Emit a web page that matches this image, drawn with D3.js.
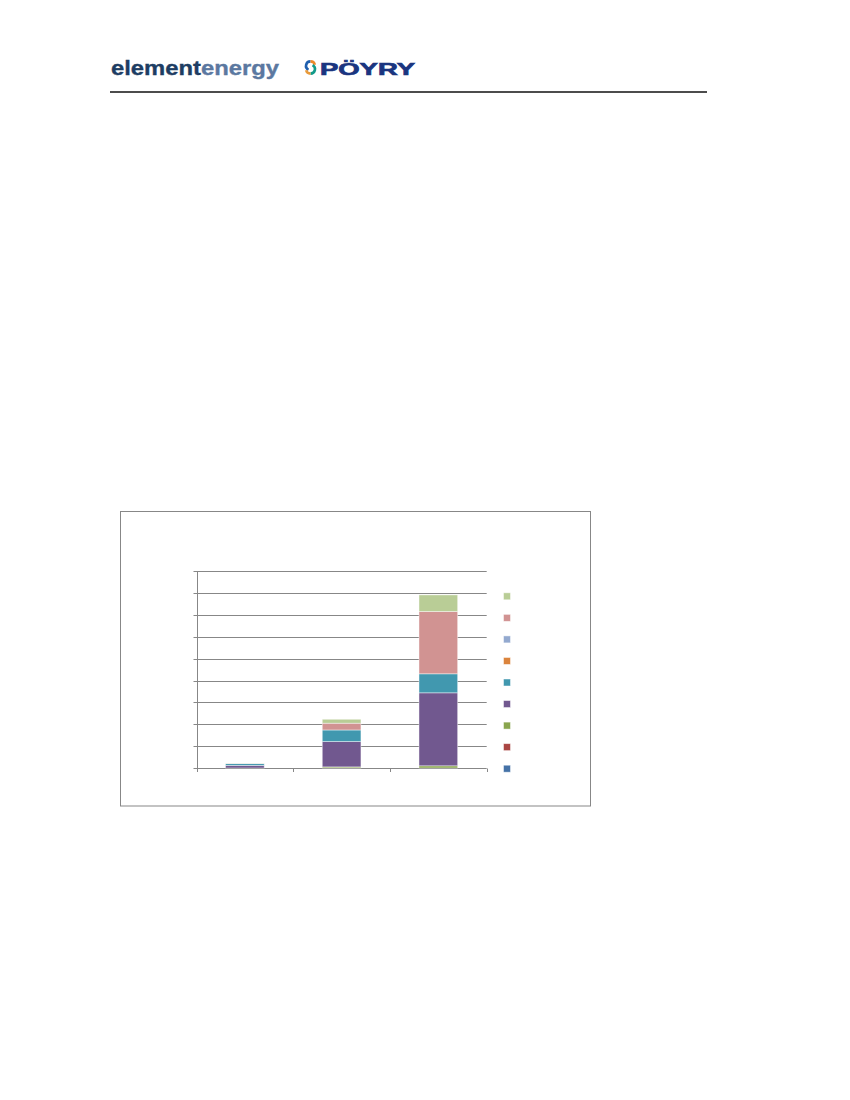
<!DOCTYPE html>
<html>
<head>
<meta charset="utf-8">
<script src="https://cdn.jsdelivr.net/npm/d3@7"></script>
<style>
  html, body { margin: 0; padding: 0; background: #fff; }
  svg { display: block; }
</style>
</head>
<body>
<svg id="page" width="850" height="1100"></svg>
<script>
// ---- data (in gridline units) ----
const categories = ["Period 1", "Period 2", "Period 3"];
const seriesNames = ["Series 1", "Series 2", "Series 3", "Series 4", "Series 5",
                     "Series 6", "Series 7", "Series 8", "Series 9"];
const seriesColors = ["#4572A7", "#AA4643", "#89A54E", "#71588F", "#4198AF",
                      "#DB843D", "#93A9CF", "#D19392", "#B9CD96"];
const series1 = [0, 0, 0];
const series2 = [0, 0, 0];
const series3 = [0, 0.05, 0.1];
const series4 = [0.12, 1.16, 3.34];
const series5 = [0.08, 0.53, 0.87];
const series6 = [0, 0, 0];
const series7 = [0, 0, 0];
const series8 = [0.01, 0.31, 2.85];
const series9 = [0.01, 0.18, 0.76];
const yTicks = [0, 1, 2, 3, 4, 5, 6, 7, 8, 9];

const seriesValues = [series1, series2, series3, series4, series5,
                      series6, series7, series8, series9];
const table = categories.map((c, i) => {
  const row = { category: c };
  seriesNames.forEach((s, j) => row[s] = seriesValues[j][i]);
  return row;
});

const svg = d3.select("#page");

// ---- header ----
const header = svg.append("g");
const ee = header.append("text")
  .attr("x", 111).attr("y", 75)
  .attr("font-family", "Liberation Sans, Arial, sans-serif")
  .attr("font-weight", "bold")
  .attr("font-size", 21)
  .attr("stroke-width", 0.35)
  .attr("textLength", 168)
  .attr("lengthAdjust", "spacingAndGlyphs");
ee.append("tspan").attr("fill", "#1d3d63").attr("stroke", "#1d3d63").text("element");
ee.append("tspan").attr("fill", "#5b78a0").attr("stroke", "#5b78a0").text("energy");

// Pöyry icon
const arcIcon = d3.arc().innerRadius(3.2).outerRadius(5.8);
const icon = header.append("g").attr("transform", "translate(310.5,67.5)");
icon.append("path")
  .attr("d", arcIcon({ startAngle: -0.85 * Math.PI, endAngle: 0 }))
  .attr("transform", "translate(0,-1.6)")
  .attr("fill", "#1f5fae");
icon.append("path")
  .attr("d", arcIcon({ startAngle: 0, endAngle: 0.42 * Math.PI }))
  .attr("transform", "translate(0,-1.6)")
  .attr("fill", "#ee8a2a");
icon.append("path")
  .attr("d", arcIcon({ startAngle: 0.15 * Math.PI, endAngle: Math.PI }))
  .attr("transform", "translate(0,1.6)")
  .attr("fill", "#129a8a");
icon.append("path")
  .attr("d", arcIcon({ startAngle: Math.PI, endAngle: 1.42 * Math.PI }))
  .attr("transform", "translate(0,1.6)")
  .attr("fill", "#e99a3a");

header.append("text")
  .attr("x", 320).attr("y", 74.5)
  .attr("font-family", "Liberation Sans, Arial, sans-serif")
  .attr("font-weight", "bold")
  .attr("font-size", 17)
  .attr("fill", "#1a3580")
  .attr("stroke", "#1a3580").attr("stroke-width", 0.7)
  .attr("textLength", 95)
  .attr("lengthAdjust", "spacingAndGlyphs")
  .text("PÖYRY");

header.append("line")
  .attr("x1", 110).attr("x2", 707)
  .attr("y1", 92).attr("y2", 92)
  .attr("stroke", "#111").attr("stroke-width", 1.6);

// ---- chart frame ----
svg.append("rect")
  .attr("x", 120.5).attr("y", 511.5)
  .attr("width", 470).attr("height", 294.5)
  .attr("fill", "#fff")
  .attr("stroke", "#878787").attr("stroke-width", 1);

// ---- scales ----
const plot = { left: 196.5, right: 486.7, top: 571.3, bottom: 768 };
const x = d3.scaleBand()
  .domain(categories)
  .range([plot.left, plot.right])
  .paddingInner(0.6)
  .paddingOuter(0.3);
const y = d3.scaleLinear()
  .domain([0, 9])
  .range([plot.bottom, plot.top]);

const gridColor = "#878787";

// gridlines
svg.append("g")
  .selectAll("line")
  .data(yTicks)
  .join("line")
  .attr("x1", plot.left).attr("x2", plot.right)
  .attr("y1", d => Math.round(y(d)) + 0.5)
  .attr("y2", d => Math.round(y(d)) + 0.5)
  .attr("stroke", gridColor).attr("stroke-width", 1);

// y axis
const yAxis = d3.axisLeft(y).tickValues(yTicks).tickSize(4).tickFormat("");
const yg = svg.append("g")
  .attr("transform", `translate(${Math.round(plot.left) + 0.5},0)`)
  .call(yAxis);
yg.selectAll("line").attr("stroke", gridColor);
yg.select(".domain").attr("stroke", gridColor).attr("d",
  `M0,${Math.round(y(9)) + 0.5}V${Math.round(y(0)) + 0.5}`);
yg.selectAll(".tick").attr("transform", d => `translate(0,${Math.round(y(d)) + 0.5})`);

// category axis ticks at band boundaries
const boundaries = d3.range(categories.length + 1).map(i => plot.left + i * x.step());
svg.append("g")
  .selectAll("line")
  .data(boundaries)
  .join("line")
  .attr("x1", d => Math.round(d) + 0.5).attr("x2", d => Math.round(d) + 0.5)
  .attr("y1", Math.round(plot.bottom) + 0.5).attr("y2", Math.round(plot.bottom) + 4)
  .attr("stroke", gridColor);

// ---- stacked bars ----
const stack = d3.stack().keys(seriesNames);
const stacked = stack(table);
const barsG = svg.append("g");
stacked.forEach((layer, j) => {
  barsG.append("g")
    .attr("fill", seriesColors[j])
    .selectAll("rect")
    .data(layer.filter(d => d[1] - d[0] > 0))
    .join("rect")
    .attr("x", d => x(d.data.category))
    .attr("width", x.bandwidth())
    .attr("y", d => y(d[1]))
    .attr("height", d => y(d[0]) - y(d[1]))
    .attr("stroke", "#ffffff")
    .attr("stroke-opacity", 0.55)
    .attr("stroke-width", 0.8);
});

// ---- legend (markers only) ----
const legendY = d3.scalePoint()
  .domain(seriesNames.slice().reverse())
  .range([596.3, 768.7]);
svg.append("g")
  .selectAll("rect")
  .data(seriesNames)
  .join("rect")
  .attr("x", 503.5)
  .attr("y", d => legendY(d) - 3.5)
  .attr("width", 7).attr("height", 7)
  .attr("fill", (d, i) => seriesColors[i])
  .attr("stroke", "#ffffff").attr("stroke-opacity", 0.6).attr("stroke-width", 0.8);
</script>
</body>
</html>
